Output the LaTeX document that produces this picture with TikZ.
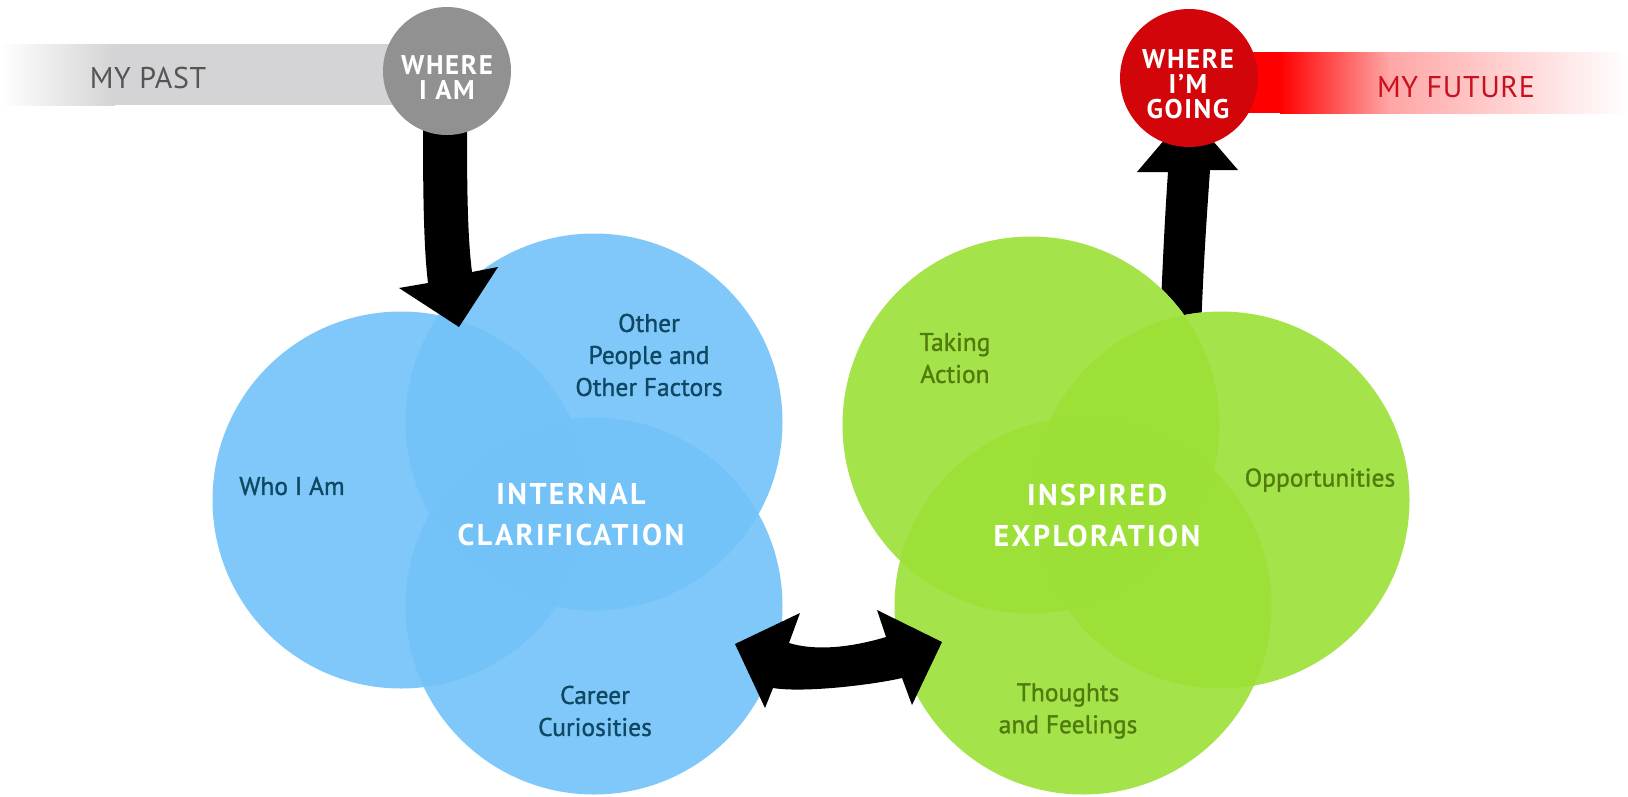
\documentclass[tikz,border=0pt]{standalone}
\usepackage{fontspec}
\setmainfont{PT Sans}
\definecolor{blueC}{RGB}{114,194,248}
\definecolor{greenC}{RGB}{156,224,55}
\definecolor{blueT}{RGB}{14,72,98}
\definecolor{greenT}{RGB}{80,124,14}
\definecolor{grayC}{RGB}{145,145,145}
\definecolor{barG}{RGB}{212,212,214}
\definecolor{redC}{RGB}{210,6,10}
\definecolor{redT}{RGB}{200,16,30}
\definecolor{pastT}{RGB}{85,85,85}
\tikzset{
  bubble/.style={circle, inner sep=0pt, minimum size=377pt, fill opacity=0.9},
  mask/.style={circle, inner sep=0pt, minimum size=377pt, fill=white},
  lab/.style={align=center, inner sep=0pt,
    font=\fontsize{25.5}{32}\selectfont\addfontfeatures{FakeBold=1.2}},
  title/.style={align=center, text=white, inner sep=0pt,
    font=\fontsize{30}{41}\selectfont\bfseries\addfontfeatures{LetterSpace=8}},
  badge/.style={circle, inner sep=0pt},
  badgetext/.style={align=center, text=white, inner sep=0pt,
    font=\fontsize{27}{25}\selectfont\bfseries\addfontfeatures{LetterSpace=6}},
  bartext/.style={inner sep=0pt,
    font=\fontsize{30}{30}\selectfont\addfontfeatures{LetterSpace=2}},
  blk/.style={fill=black},
}
\begin{document}
\begin{tikzpicture}[x=1pt,y=-1pt]
\useasboundingbox (0,0) rectangle (1628,796);
% bars
\shade[left color=white, right color=barG] (0,44) rectangle (115,105);
\fill[barG] (114.5,44) rectangle (450,105);
\fill[red] (1240,52) rectangle (1280.5,113);
\shade[left color=red, right color=red!35!white] (1280,52) rectangle (1390,113);
\shade[left color=red!35!white, right color=white] (1389.5,52) rectangle (1628,113);
% up arrow (under the green circles)
\fill[blk] (1160,330) .. controls (1163,250) and (1166,200) .. (1168,172)
  -- (1137,172) -- (1188,112) -- (1238,170) -- (1210,170)
  .. controls (1208,200) and (1204,250) .. (1201,330) -- cycle;
% masks
\node[mask] (m1) at (1031,425) {};
\node[mask] (m2) at (1221,500) {};
\node[mask] (m3) at (1083,606) {};
% circles
\node[bubble, fill=blueC] (who) at (401,500) {};
\node[bubble, fill=blueC] (other) at (594,422) {};
\node[bubble, fill=blueC] (career) at (594,606) {};
\node[bubble, fill=greenC] (taking) at (1031,425) {};
\node[bubble, fill=greenC] (opp) at (1221,500) {};
\node[bubble, fill=greenC] (thoughts) at (1083,606) {};
% labels
\node[lab, text=blueT] (lwho) at (292,486) {Who I Am};
\node[lab, text=blueT] (lother) at (649,355) {Other\\People and\\Other Factors};
\node[lab, text=blueT] (lcareer) at (595,711) {Career\\Curiosities};
\node[lab, text=greenT] (ltaking) at (955,358) {Taking\\Action};
\node[lab, text=greenT] (lopp) at (1320,480) {Opportunities};
\node[lab, text=greenT] (lthoughts) at (1068,711) {Thoughts\\and Feelings};
\node[title] (tint) at (571,515) {INTERNAL\\CLARIFICATION};
\node[title] (tins) at (1097,515) {INSPIRED\\EXPLORATION};
% down arrow
\fill[blk] (423,110) -- (423,130) .. controls (423,200) and (424,250) .. (428,283)
  -- (399,288) -- (459,327) -- (498,267) -- (472,272)
  .. controls (468,240) and (467,200) .. (467,130) -- (467,110) -- cycle;
% double arrow
\fill[blk] (735,644) -- (800,613) -- (789,643)
  .. controls (819,652) and (856,646) .. (886,637)
  -- (877,610) -- (942,642) -- (912,705) -- (902,678)
  .. controls (872,685) and (803,693) .. (773,688)
  -- (765,708) -- cycle;
% badges
\node[badge, fill=grayC, minimum size=128pt] (where) at (447,71) {};
\node[badgetext] (wheret) at (447,77) {WHERE\\I AM};
\node[badge, fill=redC, minimum size=138pt] (going) at (1189,78) {};
\node[badgetext] (goingt) at (1188,84) {WHERE\\I’M\\GOING};
\node[bartext, text=pastT] (past) at (148,78) {MY PAST};
\node[bartext, text=redT] (future) at (1456,87) {MY FUTURE};
\end{tikzpicture}
\end{document}
